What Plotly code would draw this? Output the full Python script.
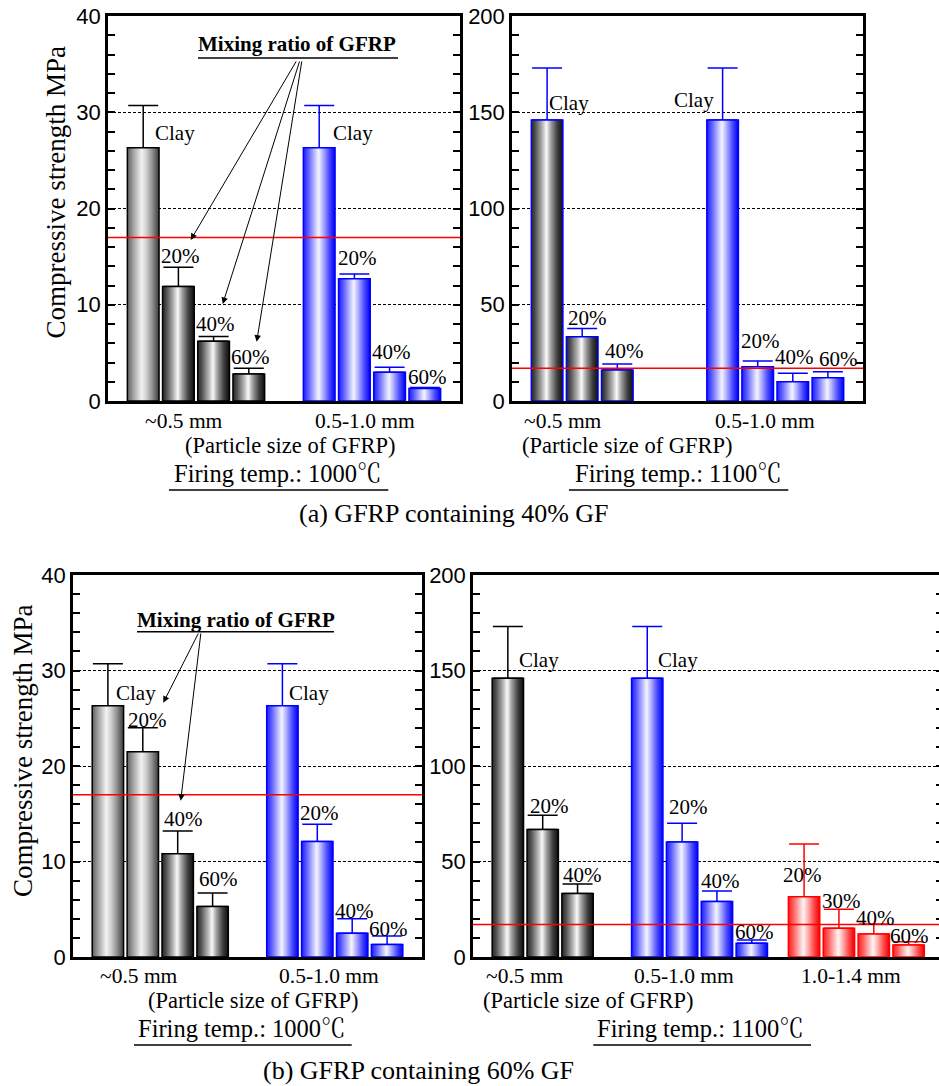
import plotly.graph_objects as go

# ---------------- data ----------------
size_labels = ["~0.5 mm", "0.5-1.0 mm", "1.0-1.4 mm"]
ratio_labels = ["Clay", "20%", "40%", "60%"]
ratio_labels_coarse = ["20%", "30%", "40%", "60%"]

# (a) GFRP containing 40% GF -- compressive strength (MPa) and upper error
a1000_small = [26.3, 11.9, 6.2, 2.8]
a1000_small_err = [4.4, 2.0, 0.5, 0.6]
a1000_mid = [26.3, 12.7, 3.0, 1.3]
a1000_mid_err = [4.4, 0.5, 0.5, 0.1]

a1100_small = [146, 33.4, 16.1]
a1100_small_err = [27, 4.3, 3.1]
a1100_mid = [146, 17.8, 10.0, 12.1]
a1100_mid_err = [27, 3.0, 4.4, 3.1]

# (b) GFRP containing 60% GF
b1000_small = [26.3, 21.5, 10.8, 5.3]
b1000_small_err = [4.4, 2.5, 2.4, 1.4]
b1000_mid = [26.3, 12.1, 2.5, 1.3]
b1000_mid_err = [4.4, 1.8, 1.5, 0.9]

b1100_small = [146, 66.8, 33.3]
b1100_small_err = [27, 7.4, 4.9]
b1100_mid = [146, 60.2, 29.0, 7.2]
b1100_mid_err = [27, 9.8, 5.6, 1.7]
b1100_coarse = [31.6, 15.0, 12.0, 6.3]
b1100_coarse_err = [27.6, 10.0, 5.3, 1.7]

required_strength = 17  # MPa, reference line

# ---------------- styling ----------------
W, H = 939, 1086
BAR_W = 0.9
SERIF = "Liberation Serif, Times New Roman, Noto Serif CJK JP, Noto Sans CJK JP, serif"
SANS = "Liberation Sans, Arial, sans-serif"

GRAD = {
    "gray_light": [[0, "#5c5c5c"], [0.12, "#8a8a8a"], [0.3, "#c4c4c4"], [0.45, "#f2f2f2"],
                   [0.6, "#cfcfcf"], [0.8, "#8c8c8c"], [1, "#3a3a3a"]],
    "gray_dark": [[0, "#262626"], [0.12, "#4d4d4d"], [0.35, "#b5b5b5"], [0.48, "#fafafa"],
                  [0.62, "#a0a0a0"], [0.82, "#404040"], [1, "#0d0d0d"]],
    "blue": [[0, "#1a1aff"], [0.15, "#5a5aff"], [0.35, "#b8b8ff"], [0.48, "#f4f4ff"],
             [0.62, "#b0b0ff"], [0.82, "#4848ff"], [1, "#0000f0"]],
    "red": [[0, "#ff1a1a"], [0.15, "#ff5a5a"], [0.35, "#ffb8b8"], [0.48, "#fff4f4"],
            [0.62, "#ffb0b0"], [0.82, "#ff4848"], [1, "#f00000"]],
}
BLACK, BLUE, RED = "#000000", "#0000ff", "#ff0000"


def px(x, y):
    return x / W, 1 - y / H


# panels: axis ids, pixel frame (left, top, right, bottom), value range
PANELS = {
    "a1000": dict(x="x", y="y", frame=(108, 16, 460, 401), xr=[0, 10], yr=[0, 40], dt=10, mdt=2),
    "a1100": dict(x="x2", y="y2", frame=(512, 16, 863, 401), xr=[0, 10], yr=[0, 200], dt=50, mdt=10),
    "b1000": dict(x="x3", y="y3", frame=(73, 575, 422, 957), xr=[0, 10], yr=[0, 40], dt=10, mdt=2),
    "b1100": dict(x="x4", y="y4", frame=(473, 575, 939, 957), xr=[0, 466 / 34.85], yr=[0, 200], dt=50, mdt=10),
}

# bar groups: values, errors, slot positions, fills, edge colour, label texts and label offsets (px)
# label offset: (anchor, dx, dy, ref) -- ref "top" = bar top, "cap" = error-bar cap
GROUPS = [
    ("a1000", a1000_small, a1000_small_err, [1, 2, 3, 4],
     ["gray_light", "gray_dark", "gray_dark", "gray_dark"], BLACK, ratio_labels,
     [("left", 9.5, 15, "top"), ("center", 2, 11.6, "cap"), ("center", 2, 12.7, "cap"), ("center", 2, 11.4, "cap")]),
    ("a1000", a1000_mid, a1000_mid_err, [6, 7, 8, 9], ["blue"] * 4, BLUE, ratio_labels,
     [("left", 12, 15, "top"), ("center", 2.7, 15.7, "cap"), ("center", 1.5, 15, "cap"), ("center", 3, 10.8, "cap")]),
    ("a1100", a1100_small, a1100_small_err, [1, 2, 3], ["gray_dark"] * 3, BLUE, ratio_labels[:3],
     [("left", 0, 16.7, "top"), ("center", 5.5, 10, "cap"), ("center", 7, 13.3, "cap")]),
    ("a1100", a1100_mid, a1100_mid_err, [6, 7, 8, 9], ["blue"] * 4, BLUE, ratio_labels,
     [("right", -7, 20, "top"), ("center", 3, 20, "cap"), ("center", 2, 16.6, "cap"), ("center", 11, 12.4, "cap")]),
    ("b1000", b1000_small, b1000_small_err, [1, 2, 3, 4],
     ["gray_light", "gray_light", "gray_dark", "gray_dark"], BLACK, ratio_labels,
     [("left", 6, 12.4, "top"), ("center", 4.5, 7.7, "cap"), ("center", 6, 12.4, "cap"), ("center", 6, 14.4, "cap")]),
    ("b1000", b1000_mid, b1000_mid_err, [6, 7, 8, 9], ["blue"] * 4, BLUE, ratio_labels,
     [("left", 5, 12.4, "top"), ("center", 2, 11.6, "cap"), ("center", 2, 8.3, "cap"), ("center", 1, 7.4, "cap")]),
    ("b1100", b1100_small, b1100_small_err, [1, 2, 3], ["gray_dark"] * 3, BLACK, ratio_labels[:3],
     [("left", 9.6, 18.4, "top"), ("center", 7, 9.6, "cap"), ("center", 5, 9, "cap")]),
    ("b1100", b1100_mid, b1100_mid_err, [5, 6, 7, 8], ["blue"] * 4, BLUE, ratio_labels,
     [("left", 9, 18.4, "top"), ("center", 6.5, 16.6, "cap"), ("center", 4, 10.3, "cap"), ("center", 2.5, 8.3, "cap")]),
    ("b1100", b1100_coarse, b1100_coarse_err, [9.5, 10.5, 11.5, 12.5], ["red"] * 4, RED, ratio_labels_coarse,
     [("center", -1.5, 21.7, "top"), ("center", 3, 8.3, "cap"), ("center", 2, 5.7, "cap"), ("center", 1, 5.7, "cap")]),
]

fig = go.Figure()
annotations = []

for panel, vals, errs, slots, fills, edge, texts, offs in GROUPS:
    ax = PANELS[panel]
    # error bars carried by the bar trace itself
    fig.add_trace(go.Bar(
        x=slots, y=vals, width=BAR_W, xaxis=ax["x"], yaxis=ax["y"],
        marker=dict(color="rgba(0,0,0,0)", line=dict(width=0)),
        error_y=dict(type="data", symmetric=False, array=errs, arrayminus=[0] * len(errs),
                     color=edge, thickness=1.5, width=15),
        showlegend=False, hoverinfo="skip",
    ))
    # shaded (cylindrical) body of every bar
    for s, v, f in zip(slots, vals, fills):
        h = BAR_W / 2
        fig.add_trace(go.Scatter(
            x=[s - h, s - h, s + h, s + h, s - h], y=[0, v, v, 0, 0],
            xaxis=ax["x"], yaxis=ax["y"], mode="lines", fill="toself",
            fillgradient=dict(type="horizontal", colorscale=GRAD[f]),
            line=dict(color=edge, width=1.5), showlegend=False, hoverinfo="skip",
        ))
    for s, v, e, t, (anc, dx, dy, ref) in zip(slots, vals, errs, texts, offs):
        annotations.append(dict(
            x=s, y=v if ref == "top" else v + e, xref=ax["x"], yref=ax["y"],
            text=t, showarrow=False, xanchor=anc, yanchor="middle",
            xshift=dx, yshift=dy, font=dict(family=SERIF, size=21, color="black"),
        ))

# right-edge tick stubs of the (b) 1100 panel
fig.add_trace(go.Scatter(x=[None], y=[None], xaxis="x4", yaxis="y5", showlegend=False, hoverinfo="skip"))

layout_axes = {}
for i, (name, ax) in enumerate(PANELS.items()):
    l, t, r, b = ax["frame"]
    xid = "xaxis" if ax["x"] == "x" else "xaxis" + ax["x"][1:]
    yid = "yaxis" if ax["y"] == "y" else "yaxis" + ax["y"][1:]
    layout_axes[xid] = dict(
        domain=[l / W, min(r / W, 1.0)], anchor=ax["y"], range=ax["xr"], automargin=False,
        showline=True, linewidth=2.5, linecolor="black", mirror=True,
        ticks="", showticklabels=False, showgrid=False, zeroline=False, fixedrange=True,
    )
    layout_axes[yid] = dict(
        domain=[1 - b / H, 1 - t / H], anchor=ax["x"], range=ax["yr"], automargin=False,
        tick0=0, dtick=ax["dt"], ticks="inside", ticklen=7, tickwidth=1.5, tickcolor="black",
        minor=dict(tick0=0, dtick=ax["mdt"], ticks="inside", ticklen=7, tickwidth=1.5,
                   tickcolor="black", showgrid=False),
        showline=True, linewidth=2.5, linecolor="black",
        mirror=False if name == "b1100" else "ticks",
        showgrid=True, gridcolor="black", gridwidth=1, griddash="3px,2px",
        zeroline=False, fixedrange=True,
        tickfont=dict(family=SANS, size=22, color="black"),
    )
layout_axes["yaxis5"] = dict(
    overlaying="y4", side="right", anchor="x4", range=[0, 200], tick0=0, dtick=10,
    ticks="inside", ticklen=3, tickwidth=1.5, tickcolor="black", showticklabels=False,
    showgrid=False, showline=False, zeroline=False, fixedrange=True, automargin=False,
)

shapes = []
# required strength line across every panel
for ax in PANELS.values():
    shapes.append(dict(type="line", xref=ax["x"] + " domain", yref=ax["y"],
                       x0=0, x1=1, y0=required_strength, y1=required_strength,
                       line=dict(color=RED, width=1.5), layer="above"))


def text(x, y, s, size, bold=False, anchor="center"):
    xp, yp = px(x, y)
    annotations.append(dict(x=xp, y=yp, xref="paper", yref="paper", text=f"<b>{s}</b>" if bold else s,
                            showarrow=False, xanchor=anchor, yanchor="middle",
                            font=dict(family=SERIF, size=size, color="black")))


def underline(x0, x1, y):
    a, yy = px(x0, y)
    b, _ = px(x1, y)
    shapes.append(dict(type="line", xref="paper", yref="paper", x0=a, x1=b, y0=yy, y1=yy,
                       line=dict(color="black", width=1.5)))


def arrow(tail, tip):
    xp, yp = px(*tip)
    annotations.append(dict(x=xp, y=yp, xref="paper", yref="paper", text="", showarrow=True,
                            ax=tail[0] - tip[0], ay=tail[1] - tip[1], arrowhead=2, arrowsize=1.3,
                            arrowwidth=1, arrowcolor="black", standoff=0))


# particle-size categories
for xc, s in [(184, 0), (365.3, 1)]:
    text(xc, 420.7, size_labels[s], 21.5)
for xc, s in [(563.3, 0), (765.3, 1)]:
    text(xc, 420.7, size_labels[s], 21.5)
for xc, s in [(139.2, 0), (328.7, 1)]:
    text(xc, 975.7, size_labels[s], 21.5)
for xc, s in [(524.5, 0), (683.8, 1), (850.8, 2)]:
    text(xc, 975.7, size_labels[s], 21.5)

text(290.3, 445, "(Particle size of GFRP)", 22.5)
text(627, 445, "(Particle size of GFRP)", 22.5)
text(253.3, 1000, "(Particle size of GFRP)", 22.5)
text(588, 1000, "(Particle size of GFRP)", 22.5)

text(278.3, 473, "Firing temp.: 1000℃", 24.5)
text(678.3, 473, "Firing temp.: 1100℃", 24.5)
text(242, 1028, "Firing temp.: 1000℃", 24.5)
text(700.8, 1028, "Firing temp.: 1100℃", 24.5)
underline(169, 388.3, 490)
underline(569, 788.3, 490)
underline(134, 351.7, 1045)
underline(593.3, 811, 1045)

text(454.2, 513.3, "(a) GFRP containing 40% GF", 26)
text(418.3, 1070, "(b) GFRP containing 60% GF", 26)

# mixing-ratio callouts
text(297, 44, "Mixing ratio of GFRP", 21, bold=True)
underline(198, 398, 58)
arrow((297, 60), (190.7, 240))
arrow((300, 60), (222.7, 304))
arrow((302, 60), (256.7, 341.7))

text(236, 620, "Mixing ratio of GFRP", 21, bold=True)
underline(137, 334, 631.7)
arrow((199, 632), (163.3, 702.7))
arrow((201, 632), (180.7, 800.7))

# y-axis titles
for xc, yc in [(55, 192.5), (22.5, 751.5)]:
    xp, yp = px(xc, yc)
    annotations.append(dict(x=xp, y=yp, xref="paper", yref="paper", text="Compressive strength MPa",
                            textangle=-90, showarrow=False, xanchor="center", yanchor="middle",
                            font=dict(family=SERIF, size=27, color="black")))

fig.update_layout(
    width=W, height=H, margin=dict(l=0, r=0, t=0, b=0, autoexpand=False),
    paper_bgcolor="white", plot_bgcolor="white", barmode="overlay", showlegend=False,
    annotations=annotations, shapes=shapes, **layout_axes,
)

fig.write_html("out.html")
